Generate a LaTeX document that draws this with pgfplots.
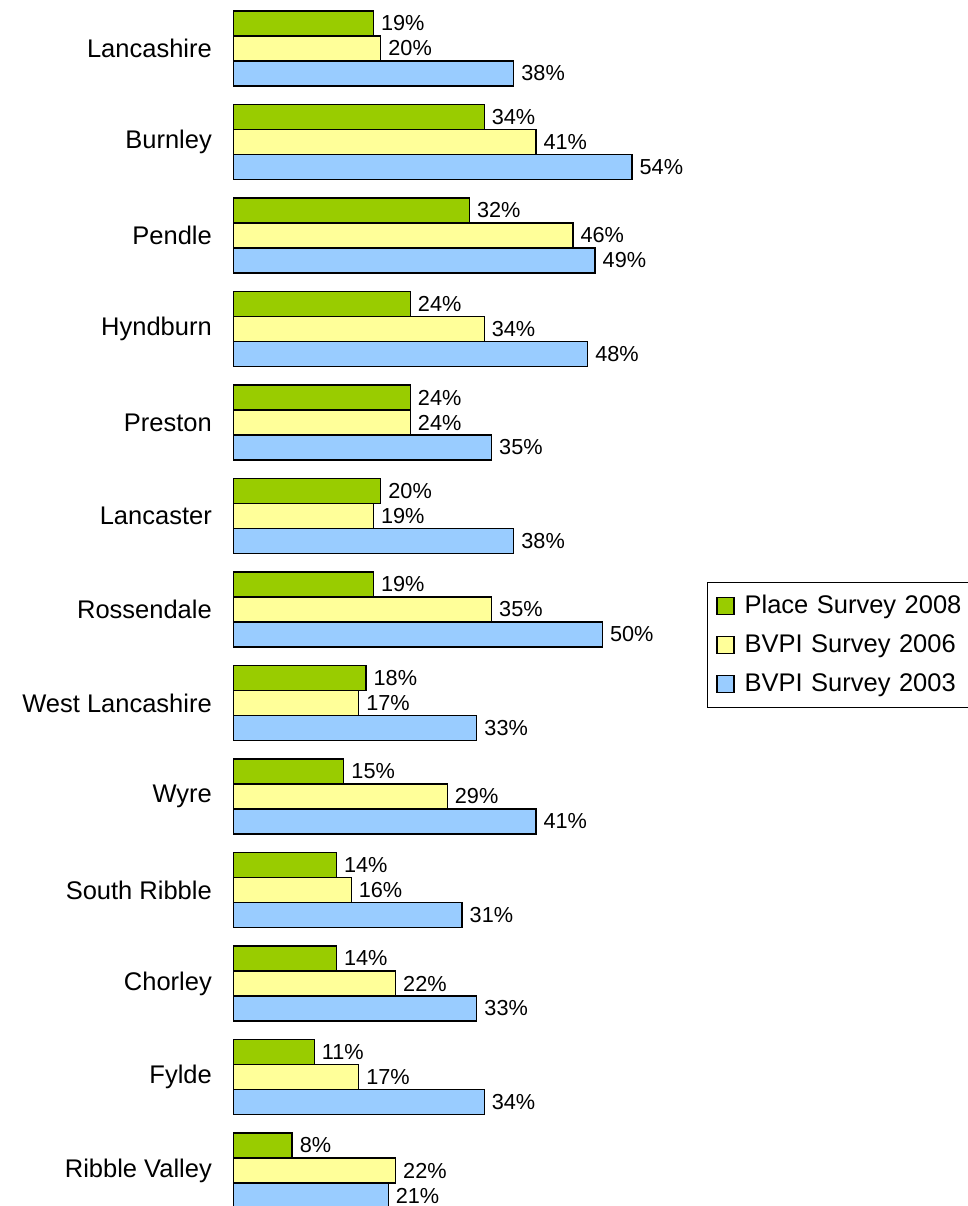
\documentclass[border=0pt]{standalone}
\usepackage{pgfplots}
\pgfplotsset{compat=1.18}
\usepackage{pgfplotstable}
\usepackage{fontspec}
\setmainfont{Liberation Sans}
\definecolor{cgreen}{HTML}{99CC00}
\definecolor{cyellow}{HTML}{FFFF99}
\definecolor{cblue}{HTML}{99CCFF}
\pgfplotstableread{
idx green yellow blue
0 19 20 38
1 34 41 54
2 32 46 49
3 24 34 48
4 24 24 35
5 20 19 38
6 19 35 50
7 18 17 33
8 15 29 41
9 14 16 31
10 14 22 33
11 11 17 34
12 8 22 21
}\datatable
\begin{document}
\begin{tikzpicture}
\path[use as bounding box] (0pt,0pt) rectangle (968pt,1206pt);
\begin{axis}[
  at={(233pt,0pt)}, anchor=south west,
  scale only axis, width=443.3pt, height=1206pt,
  xbar, bar width=0.2674,
  xmin=0, xmax=60, ymin=-0.519, ymax=12.38,
  y dir=reverse,
  enlargelimits=false,
  axis line style={draw=none},
  xtick=\empty,
  ytick={0,...,12},
  yticklabels={Lancashire,Burnley,Pendle,Hyndburn,Preston,Lancaster,Rossendale,West Lancashire,Wyre,South Ribble,Chorley,Fylde,Ribble Valley},
  major tick length=0pt,
  ytick style={draw=none},
  y tick label style={font=\fontsize{25.5}{30}\selectfont, inner sep=0pt, anchor=east, xshift=-21pt},
  nodes near coords={\pgfmathprintnumber[assume math mode=true,fixed,precision=0]{\pgfplotspointmeta}\%},
  point meta=x,
  every node near coord/.append style={font=\fontsize{21.7}{26}\selectfont, anchor=west, inner sep=0pt, xshift=7pt, text=black},
  every axis plot/.append style={draw=black, line width=1.3pt},
  legend style={at={(axis description cs:1.069,0.5174)}, anchor=north west,
    font=\fontsize{25.5}{30}\selectfont, draw=black, line width=1pt,
    inner xsep=9pt, inner ysep=4pt, row sep=0pt,
    nodes={inner sep=0pt, text height=27pt, text depth=12pt, anchor=base west},
    /tikz/every odd column/.append style={column sep=10pt},
    /tikz/every even column/.append style={text width=228pt}},
  legend cell align=left,
  legend image code/.code={\draw[#1, line width=1.2pt] (0pt,-1pt) rectangle (17pt,16pt);},
]
\addplot[fill=cgreen, bar shift=-0.2674] table[x=green, y=idx] {\datatable};
\addplot[fill=cyellow, bar shift=0] table[x=yellow, y=idx] {\datatable};
\addplot[fill=cblue, bar shift=0.2674] table[x=blue, y=idx] {\datatable};
\legend{Place Survey 2008, BVPI Survey 2006, BVPI Survey 2003}
\end{axis}
\end{tikzpicture}
\end{document}
